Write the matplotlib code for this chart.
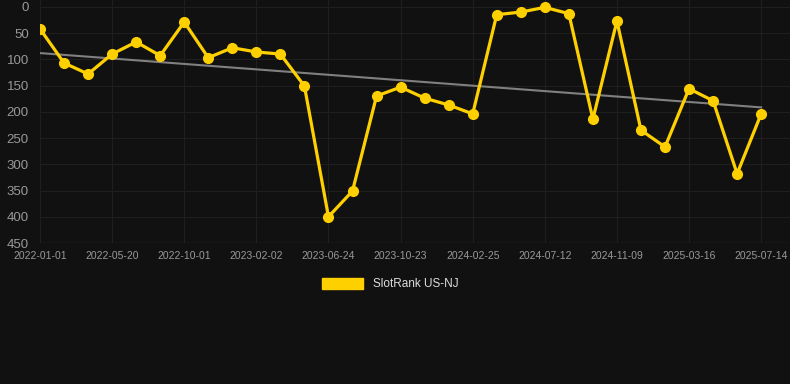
import numpy as np
import matplotlib.pyplot as plt
from matplotlib.patches import Patch

plt.rcParams['font.family'] = ['Liberation Sans', 'DejaVu Sans']

# SlotRank values, one per period (lower is better, axis inverted)
ranks = [42, 107, 128, 90, 67, 93, 29, 97, 78, 86, 90, 151, 400, 351, 170,
         153, 174, 187, 204, 15, 10, 1, 13, 214, 27, 235, 267, 156, 179, 318, 204]
tick_labels = ["2022-01-01", "2022-05-20", "2022-10-01", "2023-02-02", "2023-06-24",
               "2023-10-23", "2024-02-25", "2024-07-12", "2024-11-09", "2025-03-16",
               "2025-07-14"]
y_ticks = [0, 50, 100, 150, 200, 250, 300, 350, 400, 450]

bg = "#111111"
gold = "#FFD000"

x = np.arange(len(ranks))
slope, intercept = np.polyfit(x, ranks, 1)

fig = plt.figure(figsize=(7.9, 3.84), dpi=100, facecolor=bg)
ax = fig.add_axes([40 / 790, 1 - 243 / 384, 750 / 790, 243 / 384])
ax.set_facecolor(bg)

ax.plot(x, ranks, color=gold, lw=2.3, marker="o", ms=7, zorder=3)
ax.plot([x[0], x[-1]], [intercept, intercept + slope * x[-1]],
        color="#808080", lw=1.5, zorder=2)

ax.set_xlim(0, 31.2)
ax.set_ylim(450, -13)
ax.set_yticks(y_ticks)
ax.set_xticks(x[::3])
ax.set_xticklabels(tick_labels)
ax.grid(True, color="#1f1f1f", lw=0.8)
for s in ax.spines.values():
    s.set_visible(False)
ax.axhline(450, color="#2a2a2a", lw=1)
ax.tick_params(axis="y", colors="#999999", labelsize=9.5, length=0, pad=8)
ax.tick_params(axis="x", colors="#999999", labelsize=7.5, length=0, pad=6)

fig.legend(handles=[Patch(color=gold, label="SlotRank US-NJ")],
           loc="center", bbox_to_anchor=(390 / 790, 1 - 284 / 384),
           frameon=False, fontsize=8.5, labelcolor="#dddddd",
           handlelength=3.5, handleheight=1.1)

fig.savefig("out.png", dpi=100, facecolor=bg)
